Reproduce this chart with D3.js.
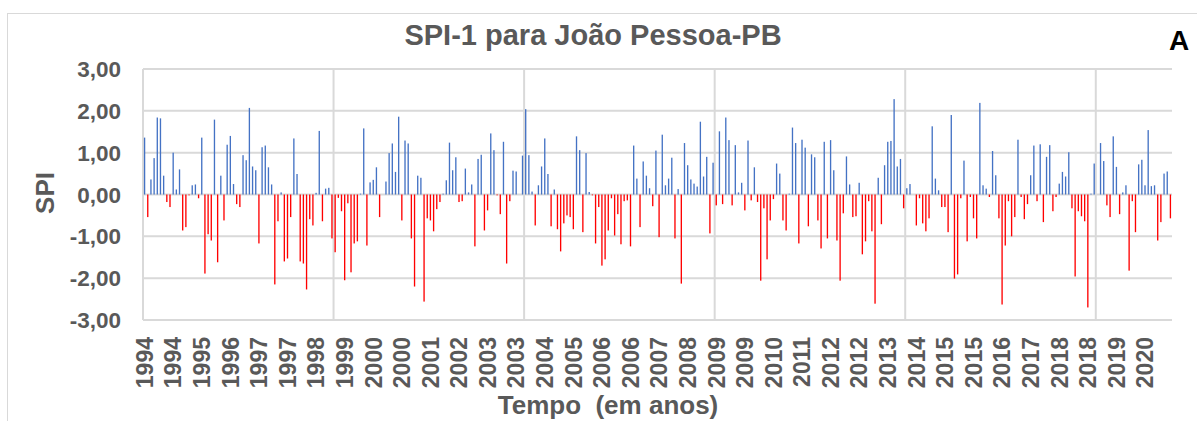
<!DOCTYPE html>
<html>
<head>
<meta charset="utf-8">
<script src="https://cdn.jsdelivr.net/npm/d3@7"></script>
<style>
  body { margin: 0; background: #fff; }
  text { font-family: "Liberation Sans", Arial, sans-serif; font-weight: bold; white-space: pre; }
</style>
</head>
<body>
<div id="chart"></div>
<script>
// SPI-1 monthly values, one row per year (Jan..Dec)
var startYear = 1994;
var spi = [
    1.36, -0.54, 0.36, 0.87, 1.84, 1.82, 0.45, -0.18, -0.30, 1.00, 0.12, 0.60,     // 1994
    -0.86, -0.78, -0.02, 0.22, 0.24, -0.09, 1.36, -1.89, -0.95, -1.10, 1.79, -1.62, // 1995
    0.45, -0.62, 1.19, 1.40, 0.25, -0.23, -0.30, 0.94, 0.82, 2.07, 0.67, 0.58,     // 1996
    -1.17, 1.13, 1.17, 0.65, 0.24, -2.15, -0.64, 0.05, -1.60, -1.53, -0.54, 1.34,  // 1997
    0.49, -1.60, -1.65, -2.27, -0.59, -0.74, 0.04, 1.52, -0.64, 0.14, 0.16, -1.05, // 1998
    -1.38, -0.08, -0.40, -2.05, -0.21, -1.86, -1.17, -1.12, 0.02, 1.58, -1.22, 0.29, // 1999
    0.35, 0.65, -0.54, 0, 0.31, 0.99, 1.22, 0.54, 1.86, -0.62, 1.29, 1.22,         // 2000
    -1.05, -2.20, 0.45, 0.40, -2.56, -0.57, -0.62, -0.88, -0.35, -0.18, 0.02, 0.34, // 2001
    1.24, 0.58, 0.89, -0.18, -0.16, 0.62, 0.05, 0.24, -1.24, 0.85, 0.95, -0.86,    // 2002
    -0.38, 1.46, 1.06, -0.02, -0.47, 1.26, -1.65, -0.16, 0.57, 0.55, 0, 0.93,      // 2003
    2.04, 0.94, 0.07, -0.74, 0.22, 0.67, 1.34, 0.49, -0.76, 0.12, -0.83, -1.36,    // 2004
    -0.69, -0.50, -0.54, -0.83, 1.39, 1.06, -0.90, 0.99, 0.06, -0.02, -1.17, -0.30, // 2005
    -1.70, -1.55, -0.86, -0.09, -0.98, -0.47, -1.19, -0.16, -0.14, -1.24, 1.17, 0.38, // 2006
    -0.78, 0.79, 0.45, 0.15, -0.28, 1.05, -1.02, 1.43, 0.22, 0.38, 0.88, -1.05,    // 2007
    0.13, -2.13, 1.23, 0.70, 0.36, 0.26, 0.19, 1.74, 0.43, 0.90, -0.93, 0.76,      // 2008
    -0.26, 1.51, -0.23, 1.84, 1.30, -0.26, 1.18, 0.05, 0.28, -0.38, 1.29, -0.14,   // 2009
    0.65, -0.18, -2.06, -0.33, -1.55, -0.62, -0.11, 0.74, 0.50, -0.62, -0.86, 0.02, // 2010
    1.60, 1.23, -1.17, 1.31, 1.12, -0.76, 0.96, 0.89, -0.62, -1.29, 1.26, -1.05,   // 2011
    1.30, 0.58, -1.10, -2.06, -0.45, 0.91, 0.24, -0.54, -0.52, 0.28, -1.43, -1.12, // 2012
    -0.16, -0.88, -2.61, 0.40, -0.71, 0.70, 1.26, 1.28, 2.28, 0.67, 0.85, -0.33,   // 2013
    0.15, 0.25, 0, -0.74, -0.09, -0.69, -0.88, -0.57, 1.63, 0.38, 0.10, -0.30,     // 2014
    -0.30, -0.90, 1.90, -2.01, -1.91, -0.09, 0.81, -1.12, -0.06, -0.57, -1.05, 2.19, // 2015
    0.22, 0.14, -0.06, 1.04, 0.46, -0.57, -2.63, -1.22, -0.16, -1.00, -0.54, 1.31, // 2016
    -0.06, -0.59, -0.23, 0.46, 1.17, -0.16, 1.20, -0.66, 0.90, 1.18, -0.40, -0.06, // 2017
    0.26, 0.54, 0.43, 1.01, -0.33, -1.96, -0.40, -0.52, -0.64, -2.70, 0.02, 0.74,  // 2018
    0, 1.23, 0.80, -0.26, -0.54, 1.39, 0.66, -0.47, 0.05, 0.22, -1.82, -0.16,      // 2019
    -0.90, 0.72, 0.83, 0.22, 1.54, 0.20, 0.22, -1.10, -0.66, 0.50, 0.55, -0.57     // 2020
];

// x labels shown every 9th month (year of that month)
var tickEvery = 9;
var tickLabels = ['1994', '1994', '1995', '1996', '1997', '1997', '1998', '1999', '2000',
    '2000', '2001', '2002', '2003', '2003', '2004', '2005', '2006', '2006', '2007', '2008',
    '2009', '2009', '2010', '2011', '2012', '2012', '2013', '2014', '2015', '2015', '2016',
    '2017', '2018', '2018', '2019', '2020'];
var yTicks = [-3, -2, -1, 0, 1, 2, 3];
var gridEvery = 60;

var width = 1197,
    height = 421;

var categories = spi.map(function (d, i) {
    var y = startYear + Math.floor(i / 12), m = i % 12 + 1;
    return y + '-' + (m < 10 ? '0' + m : m);
});
var data = spi.map(function (v, i) { return { cat: categories[i], value: v }; });

var svg = d3.select('#chart')
    .append('svg')
    .attr('width', width)
    .attr('height', height);

// chart area border
svg.append('rect')
    .attr('x', 7.5).attr('y', 13.5)
    .attr('width', 1220).attr('height', 440)
    .attr('fill', '#fff')
    .attr('stroke', '#d9d9d9');

var x = d3.scaleBand()
    .domain(categories)
    .range([143, 1172])
    .paddingInner(0.58)
    .paddingOuter(0.29);

var y = d3.scaleLinear().domain([-3, 3]).range([320, 69]);

var pt = d3.formatLocale({ decimal: ',', thousands: '.', grouping: [3], currency: ['', ''], minus: '-' });
var fmt = pt.format('.2f');

// horizontal gridlines
svg.append('g')
    .selectAll('line')
    .data(yTicks)
    .enter()
    .append('line')
    .attr('x1', x.range()[0]).attr('x2', x.range()[1])
    .attr('y1', function (d) { return y(d); })
    .attr('y2', function (d) { return y(d); })
    .attr('stroke', '#d9d9d9')
    .attr('stroke-width', 2);

// vertical gridlines every 60 months
var step = x.step();
svg.append('g')
    .selectAll('line')
    .data(d3.range(0, categories.length, gridEvery))
    .enter()
    .append('line')
    .attr('x1', function (d) { return x.range()[0] + d * step; })
    .attr('x2', function (d) { return x.range()[0] + d * step; })
    .attr('y1', y(3)).attr('y2', y(-3))
    .attr('stroke', '#d9d9d9')
    .attr('stroke-width', 2);

// bars
svg.append('g')
    .selectAll('rect')
    .data(data)
    .enter()
    .append('rect')
    .attr('x', function (d) { return x(d.cat); })
    .attr('width', x.bandwidth())
    .attr('y', function (d) { return y(Math.max(0, d.value)); })
    .attr('height', function (d) { return Math.abs(y(d.value) - y(0)); })
    .attr('fill', function (d) {
        if (d.value >= 0)
            return '#4472c4'
        else
            return '#ff0000'
    });

// y tick labels
svg.append('g')
    .selectAll('text')
    .data(yTicks)
    .enter()
    .append('text')
    .attr('x', 121)
    .attr('y', function (d) { return y(d); })
    .attr('dy', '0.36em')
    .attr('text-anchor', 'end')
    .attr('font-size', 22.5)
    .attr('fill', '#595959')
    .text(function (d) { return fmt(d); });

// x tick labels, rotated
svg.append('g')
    .selectAll('text')
    .data(tickLabels)
    .enter()
    .append('text')
    .attr('transform', function (d, i) {
        var cx = x(categories[i * tickEvery]) + x.bandwidth() / 2;
        return 'translate(' + cx + ',337) rotate(-90)';
    })
    .attr('dy', '0.36em')
    .attr('text-anchor', 'end')
    .attr('font-size', 23)
    .attr('fill', '#595959')
    .text(function (d) { return d; });

// titles
svg.append('text')
    .attr('x', 593).attr('y', 45)
    .attr('text-anchor', 'middle')
    .attr('font-size', 29)
    .attr('fill', '#595959')
    .text('SPI-1 para João Pessoa-PB');

svg.append('text')
    .attr('transform', 'translate(54,193) rotate(-90)')
    .attr('text-anchor', 'middle')
    .attr('font-size', 26)
    .attr('fill', '#595959')
    .text('SPI');

svg.append('text')
    .attr('x', 608).attr('y', 414)
    .attr('text-anchor', 'middle')
    .attr('font-size', 26)
    .attr('fill', '#595959')
    .text('Tempo  (em anos)');

svg.append('text')
    .attr('x', 1179).attr('y', 50)
    .attr('text-anchor', 'middle')
    .attr('font-size', 28)
    .attr('fill', '#000')
    .text('A');
</script>
</body>
</html>
